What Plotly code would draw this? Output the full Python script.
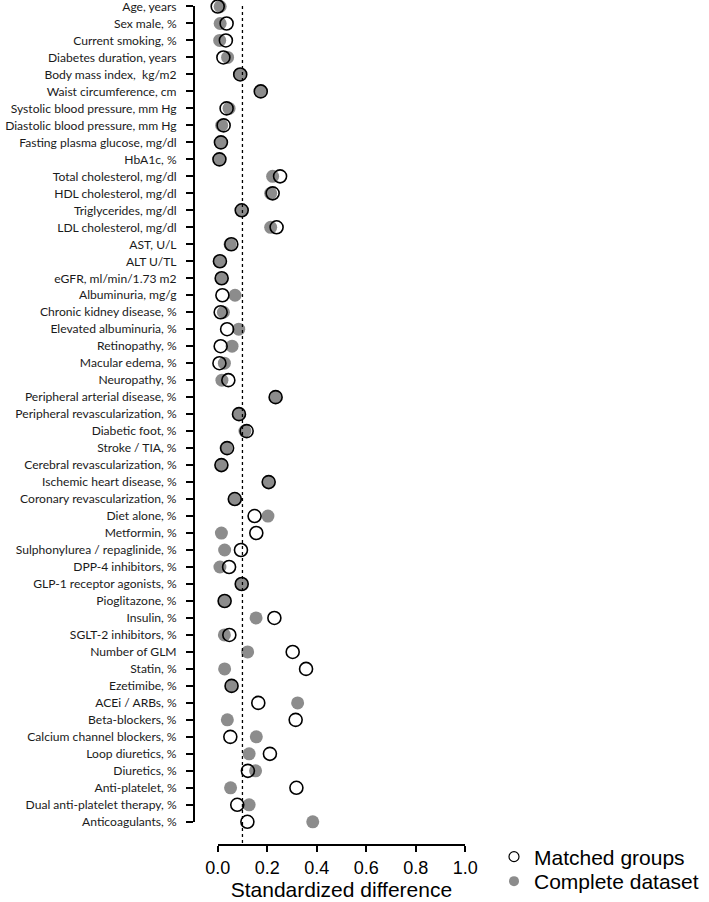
import plotly.graph_objects as go

variables = [
    "Age, years", "Sex male, %", "Current smoking, %", "Diabetes duration, years",
    "Body mass index,  kg/m2", "Waist circumference, cm", "Systolic blood pressure, mm Hg",
    "Diastolic blood pressure, mm Hg", "Fasting plasma glucose, mg/dl", "HbA1c, %",
    "Total cholesterol, mg/dl", "HDL cholesterol, mg/dl", "Triglycerides, mg/dl",
    "LDL cholesterol, mg/dl", "AST, U/L", "ALT U/TL", "eGFR, ml/min/1.73 m2",
    "Albuminuria, mg/g", "Chronic kidney disease, %", "Elevated albuminuria, %",
    "Retinopathy, %", "Macular edema, %", "Neuropathy, %", "Peripheral arterial disease, %",
    "Peripheral revascularization, %", "Diabetic foot, %", "Stroke / TIA, %",
    "Cerebral revascularization, %", "Ischemic heart disease, %", "Coronary revascularization, %",
    "Diet alone, %", "Metformin, %", "Sulphonylurea / repaglinide, %", "DPP-4 inhibitors, %",
    "GLP-1 receptor agonists, %", "Pioglitazone, %", "Insulin, %", "SGLT-2 inhibitors, %",
    "Number of GLM", "Statin, %", "Ezetimibe, %", "ACEi / ARBs, %", "Beta-blockers, %",
    "Calcium channel blockers, %", "Loop diuretics, %", "Diuretics, %", "Anti-platelet, %",
    "Dual anti-platelet therapy, %", "Anticoagulants, %",
]

matched = [
    0.000, 0.036, 0.033, 0.023, 0.091, 0.174, 0.036, 0.024, 0.013, 0.007,
    0.252, 0.222, 0.097, 0.238, 0.055, 0.009, 0.016, 0.019, 0.012, 0.038,
    0.012, 0.007, 0.043, 0.234, 0.086, 0.117, 0.038, 0.015, 0.206, 0.069,
    0.149, 0.156, 0.094, 0.046, 0.097, 0.028, 0.229, 0.047, 0.303, 0.357,
    0.056, 0.164, 0.315, 0.051, 0.211, 0.122, 0.318, 0.079, 0.120,
]

complete = [
    0.010, 0.010, 0.008, 0.040, 0.089, 0.174, 0.046, 0.016, 0.013, 0.007,
    0.222, 0.214, 0.097, 0.214, 0.050, 0.007, 0.016, 0.070, 0.023, 0.085,
    0.058, 0.027, 0.017, 0.234, 0.086, 0.110, 0.034, 0.015, 0.206, 0.069,
    0.203, 0.015, 0.028, 0.009, 0.097, 0.027, 0.155, 0.027, 0.121, 0.028,
    0.056, 0.323, 0.039, 0.156, 0.127, 0.153, 0.052, 0.127, 0.384,
]

x_ticks = [0.0, 0.2, 0.4, 0.6, 0.8, 1.0]
threshold = 0.1

W, H = 709, 902
GRAY = "#8c8c8c"
FONT = "Liberation Sans, Arial, sans-serif"

fig = go.Figure()

fig.add_trace(go.Scatter(
    x=complete, y=variables, mode="markers", showlegend=False,
    marker=dict(symbol="circle", size=13, color=GRAY, line=dict(width=0)),
    cliponaxis=False, hoverinfo="skip",
))
fig.add_trace(go.Scatter(
    x=matched, y=variables, mode="markers", showlegend=False,
    marker=dict(symbol="circle-open", size=13, color="black", line=dict(width=1.6)),
    cliponaxis=False, hoverinfo="skip",
))
fig.add_trace(go.Scatter(
    x=[None], y=[None], mode="markers", name="Matched groups", legend="legend",
    marker=dict(symbol="circle-open", size=10, color="black", line=dict(width=1.2)),
))
fig.add_trace(go.Scatter(
    x=[None], y=[None], mode="markers", name="Complete dataset", legend="legend2",
    marker=dict(symbol="circle", size=10, color=GRAY),
))

x0_px, x1_px = 217.7, 465.2
y_top_px, y_bot_px = 6.5, 822.7
xaxis_y_px = 846.0
yaxis_x_px = 194.0

fig.add_shape(
    type="line", xref="x", yref="paper",
    x0=threshold, x1=threshold,
    y0=1 - 844 / H, y1=1 - 5 / H,
    line=dict(color="black", width=1.3, dash="3px,3px"),
)

legend_common = dict(
    xanchor="left", yanchor="middle",
    font=dict(size=21, family=FONT, color="black"),
    itemwidth=30, bgcolor="rgba(0,0,0,0)",
)

fig.update_layout(
    width=W, height=H,
    margin=dict(l=0, r=0, t=0, b=0),
    paper_bgcolor="white", plot_bgcolor="white",
    font=dict(family=FONT, color="black"),
    xaxis=dict(
        domain=[x0_px / W, x1_px / W],
        range=[0, 1],
        anchor="free", position=1 - xaxis_y_px / H,
        showline=True, linecolor="black", linewidth=2,
        ticks="outside", ticklen=6, tickwidth=2, tickcolor="black",
        tickvals=x_ticks, tickformat=".1f",
        tickfont=dict(size=18, family=FONT),
        showgrid=False, zeroline=False,
        title=dict(text="Standardized difference", font=dict(size=21), standoff=5),
        automargin=False,
    ),
    yaxis=dict(
        domain=[1 - y_bot_px / H, 1 - y_top_px / H],
        type="category",
        categoryorder="array", categoryarray=variables,
        range=[len(variables) - 1, 0],
        anchor="free", position=yaxis_x_px / W,
        showline=True, linecolor="black", linewidth=2,
        ticks="outside", ticklen=7, tickwidth=2, tickcolor="black",
        ticklabelstandoff=7,
        tickfont=dict(size=12.1, family="Lato, sans-serif", color="#1a1a1a"),
        showgrid=False, zeroline=False,
        automargin=False,
    ),
    legend=dict(x=494 / W, y=1 - 857 / H, **legend_common),
    legend2=dict(x=494 / W, y=1 - 882 / H, **legend_common),
)

fig.write_html(
    "out.html",
    config={"displayModeBar": False},
    post_script="document.body.style.margin='0';document.body.style.overflow='hidden';",
)
